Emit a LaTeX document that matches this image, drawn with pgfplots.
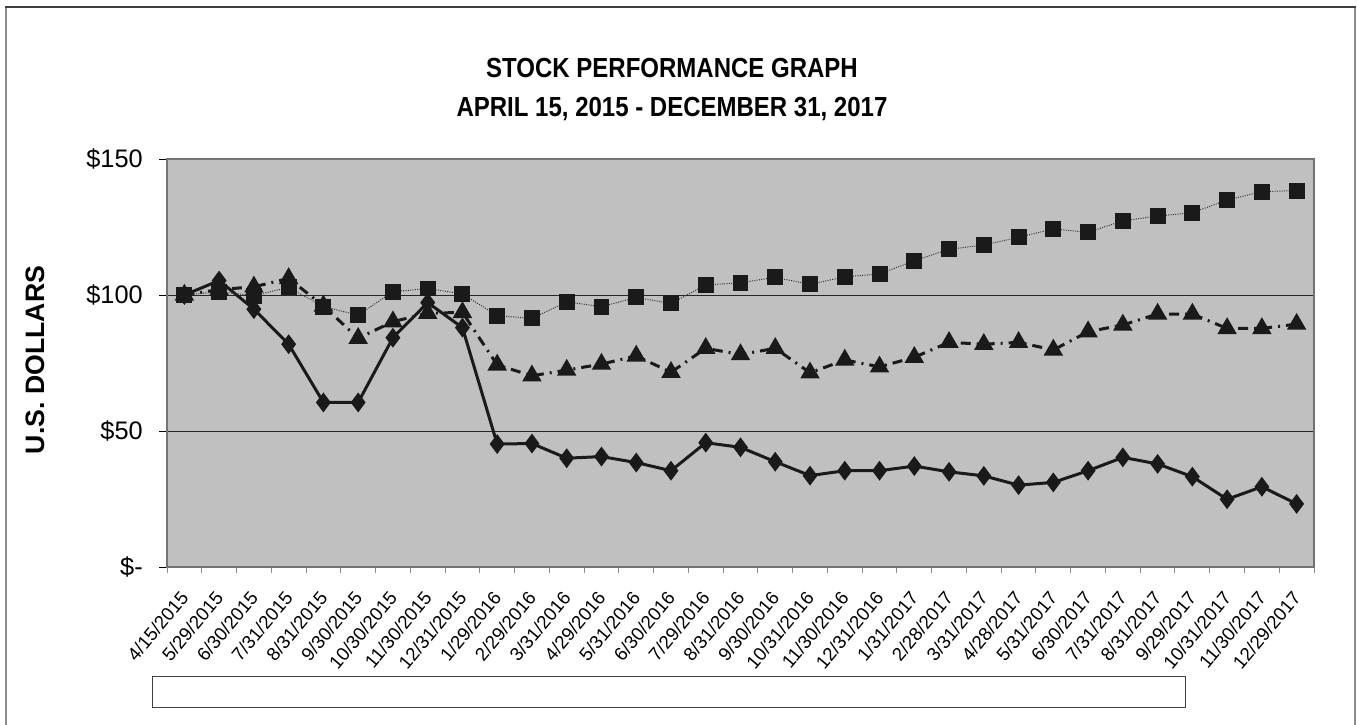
\documentclass[border=0pt]{standalone}
\usepackage{fontspec}
\setmainfont{Liberation Sans}
\usepackage{pgfplots}
\pgfplotsset{compat=1.18}
\usepackage{pgfplotstable}
\definecolor{plotbg}{HTML}{C0C0C0}
\definecolor{ink}{HTML}{1A1A1A}

\pgfplotstableread{
idx dia sq tri
0 100 100 100
1 105.3 101.2 102
2 94.8 99.8 103
3 81.9 102.8 106.1
4 60.5 95.7 96
5 60.5 92.6 84.1
6 84.3 101.2 90.2
7 97.2 102.4 93.3
8 88.0 100.4 93.6
9 45.2 92.4 74.3
10 45.4 91.4 70.3
11 40.0 97.5 72.4
12 40.6 95.7 74.6
13 38.4 99.1 77.6
14 35.4 96.9 71.6
15 45.7 103.7 80.4
16 44.0 104.5 78.1
17 38.7 106.5 80.4
18 33.6 103.9 71.4
19 35.4 106.7 76.1
20 35.4 107.7 73.6
21 37.1 112.6 77.1
22 35.0 116.8 82.6
23 33.5 118.4 81.9
24 30.1 121.2 82.6
25 31.1 124.3 79.8
26 35.4 123.0 86.5
27 40.3 127.3 89.0
28 37.9 129.0 93.0
29 33.2 130.3 93.0
30 24.9 134.9 87.7
31 29.5 138.0 87.7
32 23.2 138.4 89.3
}\datatable

\begin{document}
\begin{tikzpicture}
\useasboundingbox (0,0) rectangle (1018.5pt,-543pt);
\begin{scope}
\clip (0,0) rectangle (1018.5pt,-543pt);
\draw[black!45, line width=1.5pt] (4.5pt,-580pt) -- (4.5pt,-5.25pt);
\draw[black!45, line width=1.5pt] (1016.25pt,-580pt) -- (1016.25pt,-5.25pt);
\draw[black!75, line width=1.2pt] (3.75pt,-5.25pt) -- (1017pt,-5.25pt);
\end{scope}
\node[anchor=base, font=\bfseries\fontsize{18}{22}\selectfont] at (504pt,-57.75pt) {\scalebox{1}[1.15]{STOCK PERFORMANCE GRAPH}};
\node[anchor=base, font=\bfseries\fontsize{18}{22}\selectfont] at (504pt,-87pt) {\scalebox{1}[1.15]{APRIL 15, 2015 - DECEMBER 31, 2017}};
\node[rotate=90, font=\bfseries\fontsize{20}{24}\selectfont] at (26.25pt,-270pt) {U.S. DOLLARS};
\draw[black!75, line width=0.75pt] (114pt,-507pt) rectangle (888.75pt,-530.25pt);
\begin{axis}[
  at={(125.25pt,-425.25pt)}, anchor=south west,
  scale only axis, width=860.25pt, height=306pt,
  xmin=-0.5, xmax=32.5, ymin=0, ymax=150,
  axis background/.style={fill=plotbg},
  axis line style={black!55, line width=1pt},
  ytick={0,50,100,150},
  yticklabels={\$-,\$50,\$100,\$150},
  ytick pos=left, xtick pos=bottom,
  ymajorgrids,
  major grid style={black!85, line width=0.75pt},
  xtick={0,...,32},
  xticklabels={4/15/2015,5/29/2015,6/30/2015,7/31/2015,8/31/2015,9/30/2015,10/30/2015,11/30/2015,12/31/2015,1/29/2016,2/29/2016,3/31/2016,4/29/2016,5/31/2016,6/30/2016,7/29/2016,8/31/2016,9/30/2016,10/31/2016,11/30/2016,12/31/2016,1/31/2017,2/28/2017,3/31/2017,4/28/2017,5/31/2017,6/30/2017,7/31/2017,8/31/2017,9/29/2017,10/31/2017,11/30/2017,12/29/2017},
  minor xtick={-0.5,0.5,...,32.5},
  tick align=outside,
  major x tick style={draw=none},
  minor x tick style={black!45, line width=0.75pt},
  minor tick length=4.5pt,
  major tick length=6pt,
  xticklabel style={xshift=-4pt, yshift=-11pt, rotate=50, anchor=north east, inner sep=0pt, font=\fontsize{14}{16}\selectfont},
  yticklabel style={inner sep=0pt, xshift=-12pt, font=\fontsize{19}{21}\selectfont},
  y tick style={black, line width=0.75pt},
  clip=false,
]
\addplot[ink, line width=2.25pt, mark=diamond*, mark size=5.6pt, mark options={solid, fill=ink, draw=ink}] table[x=idx, y=dia] {\datatable};
\addplot[ink, line width=2.25pt, dash pattern=on 7.5pt off 4.5pt on 1.5pt off 4.5pt, mark=triangle*, mark size=6.2pt, mark options={solid, fill=ink, draw=ink}] table[x=idx, y=tri] {\datatable};
\addplot[black!80, line width=0.75pt, densely dotted, mark=square*, mark size=5.6pt, mark options={solid, fill=ink, draw=ink}] table[x=idx, y=sq] {\datatable};
\end{axis}
\end{tikzpicture}
\end{document}
